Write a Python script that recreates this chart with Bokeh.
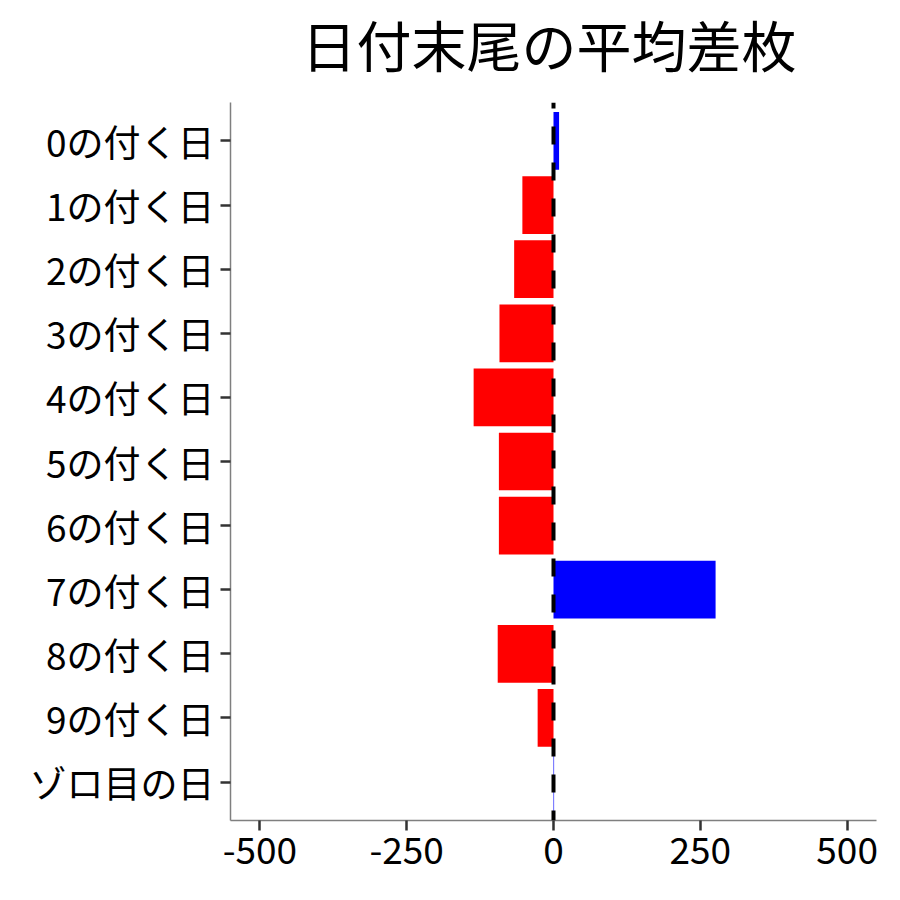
from bokeh.plotting import figure
from bokeh.layouts import column
from bokeh.models import ColumnDataSource, FactorRange, Range1d, FixedTicker, Span
from bokeh.embed import file_html
from bokeh.resources import INLINE

categories = ["0の付く日", "1の付く日", "2の付く日", "3の付く日", "4の付く日",
              "5の付く日", "6の付く日", "7の付く日", "8の付く日", "9の付く日", "ゾロ目の日"]
values = [9.5, -53, -67, -92, -136, -93, -93, 276, -95, -27, 1]
x_ticks = [-500, -250, 0, 250, 500]
x_tick_labels = ["-500", "-250", "0", "250", "500"]
title_text = "日付末尾の平均差枚"

colors = ["#0000FF" if v > 0 else "#FF0000" for v in values]
src = ColumnDataSource(dict(cat=categories, val=values, color=colors))

FONT = "Noto Sans CJK JP"

# --- title strip (its own small figure so the title can sit high above the frame)
head = figure(width=892, height=102, output_backend="svg", toolbar_location=None,
              x_axis_type=None, y_axis_type=None,
              min_border_left=0, min_border_right=0, min_border_top=0, min_border_bottom=0)
head.title.text = title_text
head.title.text_font = FONT
head.title.text_font_size = "55px"
head.title.text_font_style = "normal"
head.title.text_color = "black"
head.title.align = "left"
head.title.offset = 71
head.title.vertical_align = "bottom"
head.title.standoff = 0
head.outline_line_color = None
head.xgrid.grid_line_color = None
head.ygrid.grid_line_color = None
head.background_fill_color = "white"
head.border_fill_color = "white"

# --- main chart
p = figure(width=892, height=790, output_backend="svg", toolbar_location=None,
           y_range=FactorRange(factors=list(reversed(categories)),
                               range_padding=0.1, range_padding_units="absolute"),
           x_range=Range1d(-550, 550),
           min_border_left=230, min_border_right=16, min_border_top=0, min_border_bottom=72)
p.title.text = ""

p.hbar(y="cat", left=0, right="val", height=0.9, color="color", source=src, line_width=0)

zero = Span(location=0, dimension="height", line_color="black", line_width=4,
            line_dash="18 18", line_dash_offset=12)
p.add_layout(zero)

p.xaxis.ticker = FixedTicker(ticks=x_ticks)
p.xaxis.major_label_overrides = dict(zip(x_ticks, x_tick_labels))
for ax in (p.xaxis, p.yaxis):
    ax.major_label_text_font = FONT
    ax.major_label_text_font_size = "37px"
    ax.major_label_text_color = "black"
    ax.axis_line_color = "#7f7f7f"
    ax.axis_line_width = 1.5
    ax.major_tick_line_color = "#333333"
    ax.major_tick_line_width = 2.5
    ax.major_tick_out = 10
    ax.major_tick_in = 0
    ax.minor_tick_line_color = None
    ax.major_label_standoff = 6

p.xgrid.grid_line_color = None
p.ygrid.grid_line_color = None
p.outline_line_color = None
p.background_fill_color = "white"
p.border_fill_color = "white"

layout = column(head, p, spacing=0)
open("out.html", "w").write(file_html(layout, INLINE))
